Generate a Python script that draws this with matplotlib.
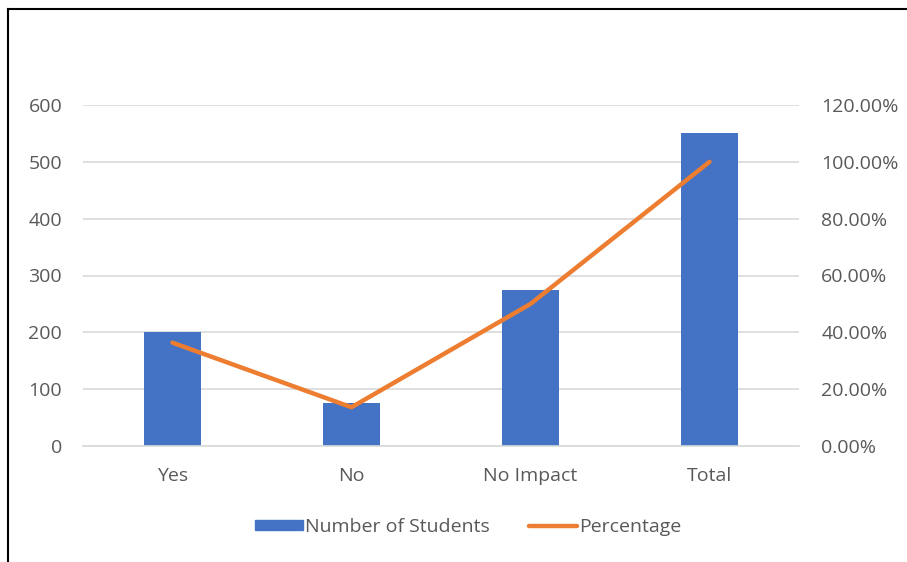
import matplotlib
matplotlib.use("Agg")
import matplotlib.pyplot as plt
from matplotlib.ticker import FuncFormatter, MultipleLocator
from matplotlib.lines import Line2D
from matplotlib.patches import Rectangle

categories = ["Yes", "No", "No Impact", "Total"]
students = [200, 75, 275, 550]
percentage = [36.36, 13.64, 50.0, 100.0]

BLUE = "#4472C4"
ORANGE = "#ED7D31"
TEXT = "#595959"
GRID = "#D9D9D9"

plt.rcParams["font.family"] = ["Open Sans", "DejaVu Sans"]
FS = 14

fig = plt.figure(figsize=(9.07, 5.62), dpi=100)
ax = fig.add_axes([83 / 907, 1 - 446 / 562, (799 - 83) / 907, (446 - 105) / 562])

x = range(len(categories))
ax.bar(x, students, width=0.32, color=BLUE, zorder=2)
ax.set_xlim(-0.5, len(categories) - 0.5)
ax.set_ylim(0, 600)
ax.yaxis.set_major_locator(MultipleLocator(100))
ax.grid(axis="y", color=GRID, linewidth=1.2, zorder=0)
ax.set_axisbelow(True)
for s in ax.spines.values():
    s.set_visible(False)
ax.spines["bottom"].set_visible(True)
ax.spines["bottom"].set_color(GRID)
ax.spines["bottom"].set_linewidth(1.2)
ax.tick_params(axis="both", length=0, labelsize=FS, colors=TEXT)
ax.tick_params(axis="y", pad=15)
ax.tick_params(axis="x", pad=15)
ax.set_xticks(list(x))
ax.set_xticklabels(categories)

ax2 = ax.twinx()
ax2.plot(list(x), percentage, color=ORANGE, linewidth=3.2, solid_capstyle="round", zorder=3)
ax2.set_ylim(0, 120)
ax2.yaxis.set_major_locator(MultipleLocator(20))
ax2.yaxis.set_major_formatter(FuncFormatter(lambda v, p: f"{v:.2f}%"))
for s in ax2.spines.values():
    s.set_visible(False)
ax2.tick_params(axis="y", length=0, labelsize=FS, colors=TEXT, pad=16)

handles = [Rectangle((0, 0), 1, 1, color=BLUE),
           Line2D([0], [0], color=ORANGE, linewidth=3.2, solid_capstyle="round")]
fig.legend(handles, ["Number of Students", "Percentage"], loc="center",
           bbox_to_anchor=(468 / 907, 1 - 527 / 562), ncol=2, frameon=False,
           fontsize=FS, labelcolor=TEXT, handlelength=2.5, handleheight=0.45,
           handletextpad=0.1, columnspacing=2.0)

# outer frame
fig.add_artist(Line2D([8 / 907, 8 / 907], [0, 1 - 9 / 562], transform=fig.transFigure,
                      color="black", linewidth=1.5))
fig.add_artist(Line2D([8 / 907, 1], [1 - 9 / 562, 1 - 9 / 562], transform=fig.transFigure,
                      color="black", linewidth=1.5))

fig.savefig("out.png", dpi=100)
